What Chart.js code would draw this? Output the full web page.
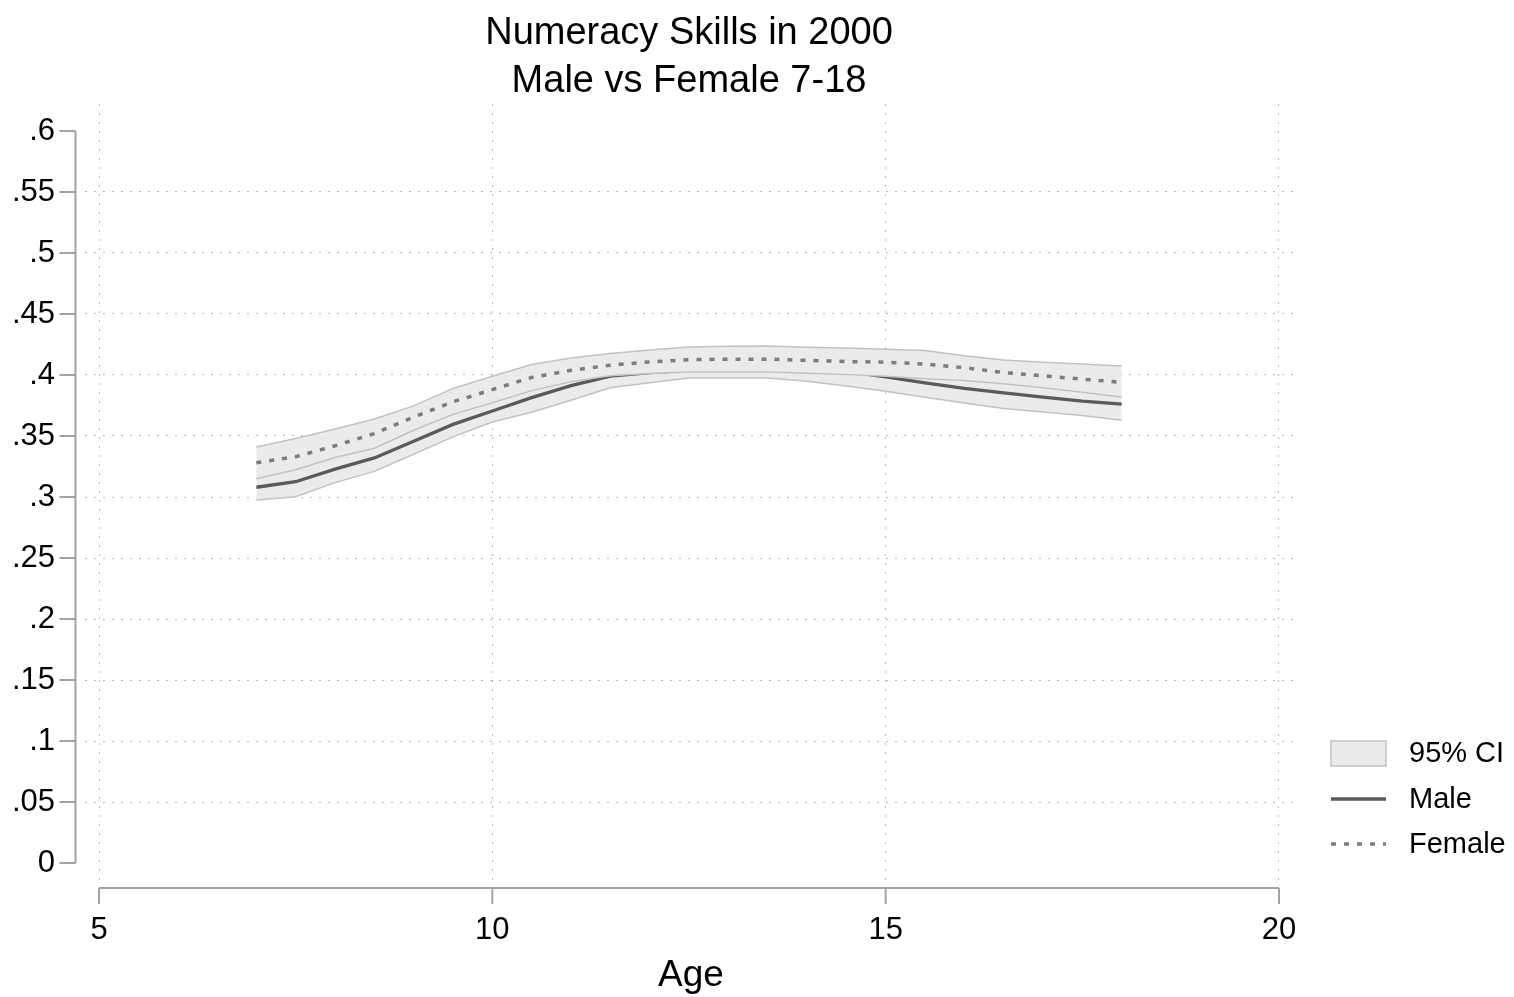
<!DOCTYPE html>
<html>
<head>
<meta charset="utf-8">
<script src="https://cdn.jsdelivr.net/npm/chart.js@4.4.1/dist/chart.umd.min.js"></script>
<style>
  html, body { margin: 0; padding: 0; background: #fff; }
  #wrap { width: 1514px; height: 997px; position: relative; }
</style>
</head>
<body>
<div id="wrap"><canvas id="numeracyChart"></canvas></div>
<script>
// ages on the x axis
const ages = [7, 7.5, 8, 8.5, 9, 9.5, 10, 10.5, 11, 11.5, 12, 12.5, 13, 13.5, 14, 14.5, 15, 15.5, 16, 16.5, 17, 17.5, 18];

// male fit and 95% band
const maleMean = [0.308, 0.3125, 0.3229, 0.332, 0.3457, 0.3595, 0.3705, 0.3814, 0.3913, 0.399, 0.402, 0.404, 0.405, 0.405, 0.4045, 0.403, 0.3985, 0.3936, 0.389, 0.3853, 0.3818, 0.3785, 0.3762];
const maleLow = [0.2975, 0.3003, 0.3118, 0.321, 0.335, 0.3493, 0.3614, 0.3694, 0.3793, 0.3895, 0.3937, 0.3975, 0.3975, 0.3975, 0.3949, 0.391, 0.3866, 0.3818, 0.377, 0.3725, 0.3697, 0.3668, 0.363];
const maleHigh = [0.321, 0.327, 0.336, 0.345, 0.358, 0.372, 0.382, 0.396, 0.405, 0.41, 0.412, 0.412, 0.414, 0.414, 0.416, 0.416, 0.412, 0.407, 0.403, 0.4, 0.396, 0.392, 0.391];

// female fit and 95% band
const femaleMean = [0.328, 0.333, 0.342, 0.352, 0.3655, 0.378, 0.388, 0.398, 0.4038, 0.408, 0.4107, 0.4125, 0.413, 0.413, 0.412, 0.411, 0.4105, 0.409, 0.406, 0.402, 0.3993, 0.3966, 0.394];
const femaleLow = [0.315, 0.3223, 0.3323, 0.34, 0.3547, 0.3677, 0.3773, 0.3872, 0.3945, 0.3993, 0.4013, 0.4025, 0.4025, 0.4025, 0.4015, 0.4003, 0.399, 0.397, 0.3955, 0.3928, 0.3896, 0.3858, 0.382];
const femaleHigh = [0.341, 0.348, 0.3557, 0.3639, 0.3747, 0.389, 0.399, 0.4086, 0.414, 0.4176, 0.4205, 0.423, 0.4235, 0.4238, 0.4228, 0.4222, 0.421, 0.42, 0.4158, 0.4123, 0.4104, 0.409, 0.4074];

const xTicks = [5, 10, 15, 20];
const yTicks = [0, 0.05, 0.1, 0.15, 0.2, 0.25, 0.3, 0.35, 0.4, 0.45, 0.5, 0.55, 0.6];

const titleLines = ['Numeracy Skills in 2000', 'Male vs Female 7-18'];
const legendLabels = ['95% CI', 'Male', 'Female'];

const FONT = '"Liberation Sans", Arial, Helvetica, sans-serif';
const bandFill = '#ebebeb';
const bandLine = '#c2c2c2';
const maleColor = '#5a5a5a';
const femaleColor = '#7c7c7c';
const axisColor = '#a2a2a2';
const gridColor = '#b8b8b8';
const femaleDash = [5, 8];

function pts(values) {
    return ages.map((a, i) => ({ x: a, y: values[i] }));
}

function yLabel(v) {
    if (v === 0) return '0';
    return String(+v.toFixed(2)).replace(/^0/, '');
}

// axis lines, titles and legend drawn Stata-style
const stataDecor = {
    id: 'stataDecor',
    afterDraw(chart) {
        const { ctx, chartArea } = chart;
        const x = chart.scales.x;
        const y = chart.scales.y;
        ctx.save();

        ctx.strokeStyle = axisColor;
        ctx.lineWidth = 2;
        ctx.setLineDash([]);
        // y axis
        const ax = chartArea.left - 9.5;
        ctx.beginPath();
        ctx.moveTo(ax, y.getPixelForValue(yTicks[0]));
        ctx.lineTo(ax, y.getPixelForValue(yTicks[yTicks.length - 1]));
        yTicks.forEach(v => {
            const py = y.getPixelForValue(v);
            ctx.moveTo(ax - 16, py);
            ctx.lineTo(ax, py);
        });
        ctx.stroke();
        // x axis
        const ay = chartArea.bottom + 8;
        ctx.beginPath();
        ctx.moveTo(x.getPixelForValue(xTicks[0]), ay);
        ctx.lineTo(x.getPixelForValue(xTicks[xTicks.length - 1]), ay);
        xTicks.forEach(v => {
            const px = x.getPixelForValue(v);
            ctx.moveTo(px, ay);
            ctx.lineTo(px, ay + 16);
        });
        ctx.stroke();

        // title
        ctx.fillStyle = '#000';
        ctx.textAlign = 'center';
        ctx.textBaseline = 'middle';
        ctx.font = '38px ' + FONT;
        const cx = (chartArea.left + chartArea.right) / 2;
        titleLines.forEach((t, i) => ctx.fillText(t, cx - 2, 34 + i * 48));

        // legend
        const lx = chartArea.right + 34;
        const lw = 55;
        const tx = chartArea.right + 112;
        const rows = [754, 800, 845];
        ctx.fillStyle = bandFill;
        ctx.fillRect(lx, rows[0] - 13, lw, 25);
        ctx.strokeStyle = bandLine;
        ctx.lineWidth = 1.5;
        ctx.strokeRect(lx, rows[0] - 13, lw, 25);

        ctx.strokeStyle = maleColor;
        ctx.lineWidth = 3.3;
        ctx.beginPath();
        ctx.moveTo(lx, rows[1] - 1);
        ctx.lineTo(lx + lw, rows[1] - 1);
        ctx.stroke();

        ctx.strokeStyle = femaleColor;
        ctx.setLineDash(femaleDash);
        ctx.beginPath();
        ctx.moveTo(lx, rows[2] - 1);
        ctx.lineTo(lx + lw, rows[2] - 1);
        ctx.stroke();
        ctx.setLineDash([]);

        ctx.fillStyle = '#000';
        ctx.textAlign = 'left';
        ctx.font = '29px ' + FONT;
        legendLabels.forEach((t, i) => ctx.fillText(t, tx, rows[i]));

        ctx.restore();
    }
};

function bandEdge(label, values, order, fill) {
    return {
        label: label,
        data: pts(values),
        borderColor: bandLine,
        borderWidth: 1.5,
        backgroundColor: bandFill,
        pointRadius: 0,
        tension: 0,
        fill: fill,
        order: order
    };
}

const chartCanvas = document.getElementById('numeracyChart');

new Chart(chartCanvas.getContext('2d'), {
    type: 'line',
    data: {
        datasets: [
            // 0,1: male band (drawn first)
            bandEdge('95% CI', maleHigh, 5, '+1'),
            bandEdge('95% CI', maleLow, 4, false),
            // 2: male fit
            {
                label: 'Male',
                data: pts(maleMean),
                borderColor: maleColor,
                borderWidth: 3.3,
                pointRadius: 0,
                tension: 0,
                fill: false,
                order: 3
            },
            // 3,4: female band, covers male line where they overlap
            bandEdge('95% CI', femaleHigh, 2, '+1'),
            bandEdge('95% CI', femaleLow, 1, false),
            // 5: female fit
            {
                label: 'Female',
                data: pts(femaleMean),
                borderColor: femaleColor,
                borderWidth: 3.5,
                borderDash: femaleDash,
                borderCapStyle: 'butt',
                pointRadius: 0,
                tension: 0,
                fill: false,
                order: 0
            }
        ]
    },
    options: {
        responsive: true,
        maintainAspectRatio: false,
        animation: false,
        layout: { padding: { left: 0, right: 217, top: 104, bottom: 0 } },
        font: { family: FONT },
        scales: {
            x: {
                type: 'linear',
                min: 4.822,
                max: 20.229,
                afterBuildTicks: (scale) => { scale.ticks = xTicks.map(v => ({ value: v })); },
                afterFit: (scale) => { scale.height = 117; },
                grid: { color: gridColor, lineWidth: 1, drawTicks: false },
                border: { display: false, dash: [2, 7] },
                ticks: {
                    padding: 32,
                    color: '#000',
                    font: { size: 31, family: FONT },
                    maxRotation: 0,
                    callback: (v) => String(v)
                },
                title: {
                    display: true,
                    text: 'Age',
                    color: '#000',
                    font: { size: 37, family: FONT },
                    padding: { top: 0, bottom: -1 }
                }
            },
            y: {
                type: 'linear',
                min: -0.0139,
                max: 0.6221,
                afterBuildTicks: (scale) => { scale.ticks = yTicks.map(v => ({ value: v })); },
                afterFit: (scale) => { scale.width = 85; },
                grid: {
                    color: (c) => (c.tick && (c.tick.value === 0 || c.tick.value > 0.59)) ? 'rgba(0,0,0,0)' : gridColor,
                    lineWidth: 1,
                    drawTicks: false
                },
                border: { display: false, dash: [2, 7] },
                ticks: {
                    padding: 30,
                    color: '#000',
                    font: { size: 31, family: FONT },
                    callback: (v) => yLabel(v)
                }
            }
        },
        plugins: {
            legend: { display: false },
            title: { display: false },
            tooltip: { enabled: false }
        }
    },
    plugins: [stataDecor]
});
</script>
</body>
</html>
